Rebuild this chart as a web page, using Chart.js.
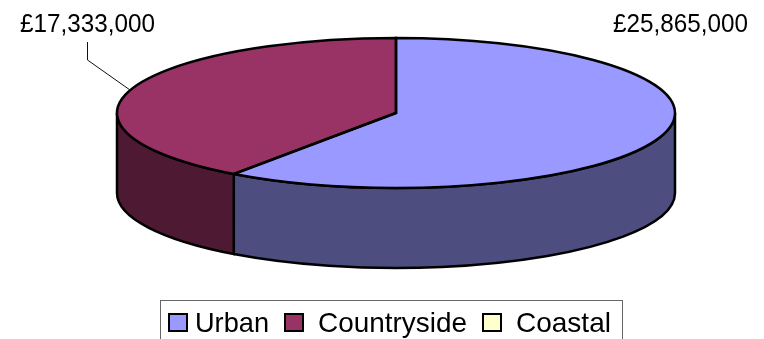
<!DOCTYPE html>
<html>
<head>
<meta charset="utf-8">
<style>
  html, body { margin: 0; padding: 0; background: #fff; overflow: hidden; }
  canvas { display: block; }
</style>
<script src="https://cdn.jsdelivr.net/npm/chart.js@4/dist/chart.umd.js"></script>
</head>
<body>
<canvas id="pie" width="764" height="339"></canvas>
<script>
const categories = ['Urban', 'Countryside', 'Coastal'];
const amounts = [25865000, 17333000, 0];
const topColors = ['#9999FF', '#993366', '#FFFFCC'];
const sideColors = ['#4D4D80', '#4E1A33', '#80806A'];

// the pie is squashed: radius 75 from the library, stretched sideways to 279
const STRETCH = 279 / 75;
const DEPTH = 80;
const OUTLINE = 2.5;
const FONT = 'Arial, "Liberation Sans", sans-serif';

const money = (v) => '£' + v.toLocaleString('en-GB');

// drawn by hand because the gaps in the reference legend are uneven
const legendBox = { left: 160.5, top: 300.5, right: 622.5, bottom: 350 };
const legendSwatchX = [169, 285, 483];
const legendTextX = [195, 318, 516];
const legendTextWidth = [74, 149, 95];
const labelSpots = [{ x: 613, y: 32 }, { x: 20, y: 32 }];

function ellipseArc(ctx, arc, from, to, drop, ccw) {
  ctx.ellipse(arc.x, arc.y + drop, arc.outerRadius * STRETCH, arc.outerRadius, 0, from, to, ccw);
}

const pie3d = {
  id: 'pie3d',
  beforeDatasetsDraw(chart) {
    const ctx = chart.ctx;
    const arcs = chart.getDatasetMeta(0).data;

    // side wall, only the part of each slice on the front half
    arcs.forEach((arc, i) => {
      const from = Math.max(arc.startAngle, 0);
      const to = Math.min(arc.endAngle, Math.PI);
      if (to <= from) return;
      ctx.beginPath();
      ellipseArc(ctx, arc, from, to, 0, false);
      ellipseArc(ctx, arc, to, from, DEPTH, true);
      ctx.closePath();
      ctx.fillStyle = sideColors[i];
      ctx.fill();
      ctx.lineWidth = OUTLINE;
      ctx.strokeStyle = '#000';
      ctx.stroke();
    });

    ctx.save();
    ctx.translate(arcs[0].x, arcs[0].y);
    ctx.scale(STRETCH, 1);
    ctx.translate(-arcs[0].x, -arcs[0].y);
  },
  afterDatasetsDraw(chart) {
    const ctx = chart.ctx;
    ctx.restore();
    const arcs = chart.getDatasetMeta(0).data;

    // outlines of the top face, stroked here so the stretch leaves the line width alone
    ctx.lineWidth = OUTLINE;
    ctx.strokeStyle = '#000';
    arcs.forEach((arc) => {
      if (arc.endAngle <= arc.startAngle) return;
      ctx.beginPath();
      ctx.moveTo(arc.x, arc.y);
      ellipseArc(ctx, arc, arc.startAngle, arc.endAngle, 0, false);
      ctx.closePath();
      ctx.stroke();
    });

    // leader line of the countryside label
    ctx.lineWidth = 1;
    ctx.strokeStyle = '#111';
    ctx.beginPath();
    ctx.moveTo(87.5, 42);
    ctx.lineTo(87.5, 60);
    ctx.lineTo(130, 90);
    ctx.stroke();

    ctx.fillStyle = '#000';
    ctx.textAlign = 'left';
    ctx.textBaseline = 'alphabetic';
    ctx.font = '26px ' + FONT;
    labelSpots.forEach((spot, i) => {
      ctx.fillText(money(amounts[i]), spot.x, spot.y, 135);
    });

    // legend
    ctx.lineWidth = 1;
    ctx.strokeStyle = '#666';
    ctx.strokeRect(legendBox.left, legendBox.top, legendBox.right - legendBox.left, legendBox.bottom - legendBox.top);
    ctx.font = '28px ' + FONT;
    categories.forEach((name, i) => {
      ctx.fillStyle = topColors[i];
      ctx.fillRect(legendSwatchX[i], 314, 18, 17);
      ctx.lineWidth = 2;
      ctx.strokeStyle = '#000';
      ctx.strokeRect(legendSwatchX[i], 314, 18, 17);
      ctx.fillStyle = '#000';
      ctx.fillText(name, legendTextX[i], 332, legendTextWidth[i]);
    });
  }
};

new Chart(document.getElementById('pie'), {
  type: 'pie',
  data: {
    labels: categories,
    datasets: [{
      data: amounts,
      backgroundColor: topColors,
      borderWidth: 0,
    }],
  },
  options: {
    responsive: false,
    animation: false,
    layout: { padding: { left: 28, right: 0, top: 38, bottom: 151 } },
    plugins: {
      legend: { display: false },
      tooltip: { enabled: false },
    },
  },
  plugins: [pie3d],
});
</script>
</body>
</html>
